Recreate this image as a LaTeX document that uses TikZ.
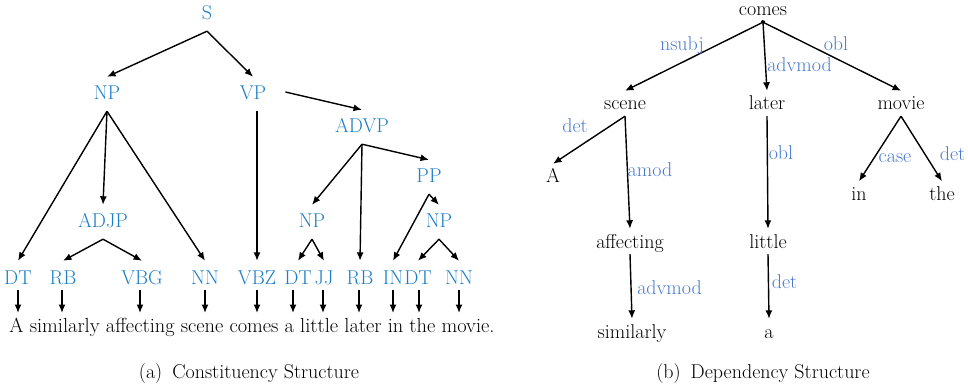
\documentclass[tikz,border=0pt]{standalone}
\usetikzlibrary{arrows.meta,calc}
\definecolor{catblue}{RGB}{28,125,200}
\definecolor{relblue}{RGB}{72,122,208}

\begin{document}
\begin{tikzpicture}[x=1pt,y=-1pt,
  every node/.style={font=\fontsize{20}{24}\selectfont},
  cat/.style={text=catblue, text height=17pt, text depth=5pt, inner sep=6pt},
  word/.style={text=black, text height=17pt, text depth=4pt, inner sep=2pt},
  rel/.style={text=relblue, inner sep=0pt},
  arc/.style={draw, line width=1.4pt, -{Latex[length=8.5pt,width=7pt]}},
  caption/.style={anchor=base, inner sep=0pt}
]
\useasboundingbox (0,0) rectangle (968,387);

% ---------- (a) constituency tree ----------
\node[cat] (s)    at (207,14)  {S};
\node[cat] (np1)  at (107,94)  {NP};
\node[cat] (vp)   at (253,94)  {VP};
\node[cat] (advp) at (362,127) {ADVP};
\node[cat] (pp)   at (429,177) {PP};
\node[cat] (adjp) at (103,222) {ADJP};
\node[cat] (np2)  at (312,222) {NP};
\node[cat] (np3)  at (439,222) {NP};

\node[cat] (dt1) at (18,278)  {DT};
\node[cat] (rb1) at (63,278)  {RB};
\node[cat] (vbg) at (142,278) {VBG};
\node[cat] (nn1) at (205,278) {NN};
\node[cat] (vbz) at (257,278) {VBZ};
\node[cat] (dt2) at (298,278) {DT};
\node[cat] (jj)  at (324,278) {JJ};
\node[cat] (rb2) at (360,278) {RB};
\node[cat] (in)  at (393,278) {IN};
\node[cat] (dt3) at (418,278) {DT};
\node[cat] (nn2) at (459,278) {NN};

\node[anchor=base, inner sep=0pt, font=\fontsize{20.4}{24}\selectfont] (sent) at (252,332)
  {A similarly affecting scene comes a little later in the movie.};

\coordinate (w1)  at (18,313);
\coordinate (w2)  at (62,313);
\coordinate (w3)  at (140,313);
\coordinate (w4)  at (205,313);
\coordinate (w5)  at (257,313);
\coordinate (w6)  at (293,313);
\coordinate (w7)  at (323,313);
\coordinate (w8)  at (359,313);
\coordinate (w9)  at (393,313);
\coordinate (w10) at (419,313);
\coordinate (w11) at (459,313);

\draw[arc] (s.south) -- (np1.north);
\draw[arc] (s.south) -- (vp.north);
\draw[arc] ($(vp.east)+(13,-2)$) -- (advp.north);
\draw[arc] (vbz |- vp.south) -- (vbz.north);
\draw[arc] (np1.south) -- (dt1.north);
\draw[arc] (np1.south) -- (adjp.north);
\draw[arc] (np1.south) -- (nn1.north);
\draw[arc] (adjp.south) -- (rb1.north);
\draw[arc] (adjp.south) -- (vbg.north);
\draw[arc] (advp.south) -- (np2.north);
\draw[arc] (advp.south) -- (rb2.north);
\draw[arc] (advp.south) -- (pp.north);
\draw[arc] (np2.south) -- (dt2.north);
\draw[arc] (np2.south) -- (jj.north);
\draw[arc] (pp.south) -- (in.north);
\draw[arc] (pp.south) -- (np3.north);
\draw[arc] (np3.south) -- (dt3.north);
\draw[arc] (np3.south) -- (nn2.north);

\foreach \p/\w in {dt1/w1, rb1/w2, vbg/w3, nn1/w4, vbz/w5, dt2/w6,
                   jj/w7, rb2/w8, in/w9, dt3/w10, nn2/w11}
  \draw[arc, shorten <=-5pt] (\w |- \p.south) -- (\w);

\node[caption] (capa) at (249,378) {(a)\enspace Constituency Structure};

% ---------- (b) dependency tree ----------
\node[word] (comes)     at (763,9.5)   {comes};
\node[word] (scene)     at (625,103.5) {scene};
\node[word] (later)     at (767,103.5) {later};
\node[word] (movie)     at (901,103.5) {movie};
\node[word] (wA)        at (553,176.5) {A};
\node[word] (win)       at (859,194)   {in};
\node[word] (wthe)      at (942,194)   {the};
\node[word] (affecting) at (630,241.5) {affecting};
\node[word] (little)    at (768,241.5) {little};
\node[word] (similarly) at (632,331.5) {similarly};
\node[word] (wa)        at (769,331.5) {a};

\draw[arc, shorten <=-2pt] (comes.south) -- (scene.north);
\draw[arc, shorten <=-2pt] (comes.south) -- (later.north);
\draw[arc, shorten <=-2pt] (comes.south) -- (movie.north);
\draw[arc] (scene.south) -- (wA.north);
\draw[arc] (scene.south) -- (affecting.north);
\draw[arc] (later.south) -- (little.north);
\draw[arc] (movie.south) -- (win.north);
\draw[arc] (movie.south) -- (wthe.north);
\draw[arc] (affecting.south) -- (similarly.north);
\draw[arc] (little.south) -- (wa.north);

\node[rel] (r1)  at (682,46)    {nsubj};
\node[rel] (r2)  at (799.5,64.5) {advmod};
\node[rel] (r3)  at (836,43.5)  {obl};
\node[rel] (r4)  at (575,126)   {det};
\node[rel] (r5)  at (650,170)   {amod};
\node[rel] (r6)  at (781,153)   {obl};
\node[rel] (r7)  at (895,158)   {case};
\node[rel] (r8)  at (952.5,154) {det};
\node[rel] (r9)  at (669.5,287.5) {advmod};
\node[rel] (r10) at (784.5,281.5) {det};

\node[caption] (capb) at (763,378) {(b)\enspace Dependency Structure};
\end{tikzpicture}
\end{document}
